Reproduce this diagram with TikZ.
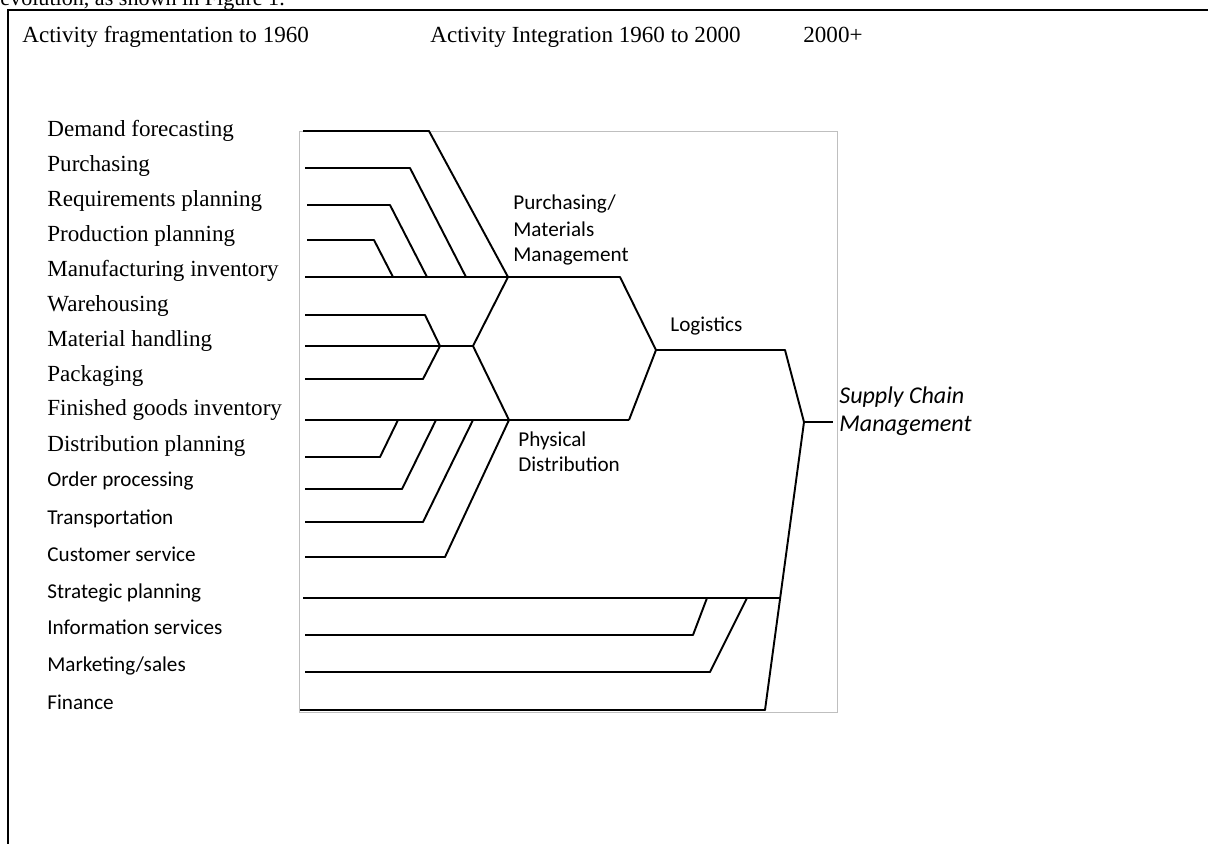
\documentclass[tikz,border=0pt]{standalone}
\usepackage{fontspec}
\setmainfont{Liberation Serif}
\newfontfamily\calibri{Carlito}
\begin{document}
\begin{tikzpicture}[x=0.52pt,y=-0.52pt,
  conn/.style={line width=1pt, line join=round},
  tm/.style={font=\fontsize{12}{14}\selectfont, anchor=base west, inner sep=0pt},
  cb/.style={font=\calibri\fontsize{11}{13}\selectfont, anchor=base west, inner sep=0pt},
  cbi/.style={font=\calibri\itshape\fontsize{12.5}{15}\selectfont, anchor=base west, inner sep=0pt},
  boxline/.style={draw=black!25, line width=0.5pt},
  frameline/.style={line width=1.2pt}]
\useasboundingbox (0,0) rectangle (1208,843);
\clip (0,0) rectangle (1208,843);
\fill[white] (0,0) rectangle (1208,843);
% cut-off text line at top
\node[tm, font=\fontsize{11.5}{13}\selectfont] (evo) at (0,5) {evolution, as shown in Figure 1.};
% frame
\draw[frameline] (8,860) -- (8,10) -- (1230,10);
% headers
\node[tm] (h1) at (22,42) {Activity fragmentation to 1960};
\node[tm] (h2) at (430,42) {Activity Integration 1960 to 2000};
\node[tm] (h3) at (803,42) {2000+};
% light box
\draw[boxline] (299,131) rectangle (837,712);
% list labels
\node[tm] (l1) at (47,136) {Demand forecasting};
\node[tm] (l2) at (47,171) {Purchasing};
\node[tm] (l3) at (47,206) {Requirements planning};
\node[tm] (l4) at (47,241) {Production planning};
\node[tm] (l5) at (47,276) {Manufacturing inventory};
\node[tm] (l6) at (47,311) {Warehousing};
\node[tm] (l7) at (47,346) {Material handling};
\node[tm] (l8) at (47,381) {Packaging};
\node[tm] (l9) at (47,415) {Finished goods inventory};
\node[tm] (l10) at (47,451) {Distribution planning};
\node[cb] (l11) at (47,486) {Order processing};
\node[cb] (l12) at (47,524) {Transportation};
\node[cb] (l13) at (47,561) {Customer service};
\node[cb] (l14) at (47,598) {Strategic planning};
\node[cb] (l15) at (47,634) {Information services};
\node[cb] (l16) at (47,671) {Marketing/sales};
\node[cb] (l17) at (47,709) {Finance};
% junction coordinates
\coordinate (PM) at (508,277);
\coordinate (MJ) at (473,346);
\coordinate (PD) at (509,420);
\coordinate (LG) at (656,350);
\coordinate (SC) at (804,422);
\coordinate (SCe) at (833,422);
% upper group
\coordinate (a1) at (303,131); \coordinate (a2) at (429,131);
\coordinate (b1) at (305,168); \coordinate (b2) at (410,168); \coordinate (b3) at (466,277);
\coordinate (c1) at (307,205); \coordinate (c2) at (390,205); \coordinate (c3) at (427,277);
\coordinate (d1) at (307,240); \coordinate (d2) at (374,240); \coordinate (d3) at (393,277);
\coordinate (e1) at (305,277);
\draw[conn] (a1) -- (a2) -- (PM);
\draw[conn] (b1) -- (b2) -- (b3);
\draw[conn] (c1) -- (c2) -- (c3);
\draw[conn] (d1) -- (d2) -- (d3);
\draw[conn] (e1) -- (PM);
% middle group
\coordinate (f1) at (305,315); \coordinate (f2) at (425,315); \coordinate (fj) at (440,346);
\coordinate (g1) at (305,346);
\coordinate (h1c) at (305,379); \coordinate (h2c) at (423,379);
\draw[conn] (f1) -- (f2) -- (fj);
\draw[conn] (h1c) -- (h2c) -- (fj);
\draw[conn] (g1) -- (MJ);
\draw[conn] (PM) -- (MJ) -- (PD);
% lower group
\coordinate (i1) at (305,420); \coordinate (i2) at (629,420);
\coordinate (j1) at (305,457); \coordinate (j2) at (380,457); \coordinate (j3) at (398,420);
\coordinate (k1) at (305,489); \coordinate (k2) at (402,489); \coordinate (k3) at (436,420);
\coordinate (m1) at (305,522); \coordinate (m2) at (423,522); \coordinate (m3) at (473,420);
\coordinate (n1) at (305,557); \coordinate (n2) at (445,557);
\draw[conn] (i1) -- (i2);
\draw[conn] (j1) -- (j2) -- (j3);
\draw[conn] (k1) -- (k2) -- (k3);
\draw[conn] (m1) -- (m2) -- (m3);
\draw[conn] (n1) -- (n2) -- (PD);
% logistics
\coordinate (p1) at (620,277);
\coordinate (q1) at (785,350);
\draw[conn] (PM) -- (p1) -- (LG);
\draw[conn] (i2) -- (LG);
\draw[conn] (LG) -- (q1) -- (SC);
\draw[conn] (SC) -- (SCe);
% supply chain lower
\coordinate (r1) at (300,710); \coordinate (r2) at (765,710);
\coordinate (s1) at (303,598); \coordinate (s2) at (780,598);
\coordinate (t1) at (305,635); \coordinate (t2) at (693,635); \coordinate (t3) at (707,598);
\coordinate (u1) at (305,672); \coordinate (u2) at (710,672); \coordinate (u3) at (747,598);
\draw[conn] (SC) -- (r2) -- (r1);
\draw[conn] (s1) -- (s2);
\draw[conn] (t1) -- (t2) -- (t3);
\draw[conn] (u1) -- (u2) -- (u3);
% diagram labels
\node[cb] (pm1) at (513,209) {Purchasing/};
\node[cb] (pm2) at (513,236) {Materials};
\node[cb] (pm3) at (513,261) {Management};
\node[cb] (lgl) at (670,331) {Logistics};
\node[cb] (pd1) at (518,446) {Physical};
\node[cb] (pd2) at (518,471) {Distribution};
\node[cbi] (sc1) at (839,403) {Supply Chain};
\node[cbi] (sc2) at (839,431) {Management};
\end{tikzpicture}
\end{document}
